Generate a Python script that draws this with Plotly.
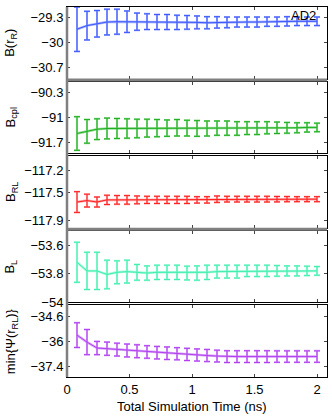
import plotly.graph_objects as go
from plotly.subplots import make_subplots

# Simulation times (ns)
times = [0.08, 0.16, 0.24, 0.32, 0.40, 0.48, 0.56, 0.64, 0.72, 0.80, 0.88, 0.96, 1.04,
         1.12, 1.20, 1.28, 1.36, 1.44, 1.52, 1.60, 1.68, 1.76, 1.84, 1.92, 2.00]

b_r_mean = [-29.62, -29.52, -29.47, -29.42, -29.41, -29.41, -29.41, -29.41, -29.42, -29.42,
            -29.43, -29.43, -29.43, -29.44, -29.43, -29.43, -29.42, -29.42, -29.42, -29.41,
            -29.41, -29.40, -29.40, -29.40, -29.40]
b_r_err = [0.62, 0.40, 0.37, 0.36, 0.35, 0.30, 0.24, 0.22, 0.21, 0.21, 0.20, 0.19, 0.18,
           0.17, 0.16, 0.15, 0.14, 0.14, 0.14, 0.13, 0.13, 0.13, 0.12, 0.12, 0.12]

b_cpl_mean = [-91.45, -91.39, -91.33, -91.31, -91.31, -91.31, -91.31, -91.30, -91.30, -91.30,
              -91.29, -91.30, -91.31, -91.31, -91.30, -91.30, -91.31, -91.30, -91.30, -91.29,
              -91.29, -91.29, -91.29, -91.28, -91.28]
b_cpl_err = [0.47, 0.33, 0.29, 0.29, 0.28, 0.27, 0.26, 0.25, 0.24, 0.23, 0.23, 0.22, 0.22,
             0.21, 0.20, 0.20, 0.19, 0.18, 0.18, 0.17, 0.16, 0.15, 0.14, 0.13, 0.12]

b_rl_mean = [-117.64, -117.62, -117.64, -117.61, -117.61, -117.61, -117.61, -117.61, -117.61,
             -117.61, -117.61, -117.61, -117.61, -117.61, -117.60, -117.60, -117.60, -117.60,
             -117.60, -117.60, -117.60, -117.60, -117.60, -117.60, -117.60]
b_rl_err = [0.145, 0.09, 0.07, 0.065, 0.06, 0.06, 0.055, 0.05, 0.05, 0.05, 0.05, 0.05, 0.045,
            0.045, 0.045, 0.04, 0.04, 0.04, 0.04, 0.04, 0.038, 0.036, 0.035, 0.035, 0.035]

b_l_mean = [-53.72, -53.78, -53.78, -53.805, -53.79, -53.785, -53.79, -53.795, -53.79, -53.79,
            -53.79, -53.795, -53.795, -53.79, -53.785, -53.785, -53.785, -53.78, -53.78, -53.78,
            -53.78, -53.78, -53.78, -53.78, -53.78]
b_l_err = [0.14, 0.13, 0.13, 0.10, 0.08, 0.08, 0.055, 0.05, 0.05, 0.05, 0.05, 0.048, 0.05,
           0.05, 0.045, 0.045, 0.045, 0.04, 0.04, 0.04, 0.037, 0.035, 0.035, 0.033, 0.03]

psi_mean = [-35.66, -36.05, -36.38, -36.42, -36.47, -36.52, -36.56, -36.60, -36.64, -36.67,
            -36.70, -36.74, -36.77, -36.80, -36.83, -36.86, -36.86, -36.86, -36.86, -36.86,
            -36.86, -36.86, -36.86, -36.86, -36.86]
psi_err = [0.69, 0.70, 0.37, 0.37, 0.36, 0.36, 0.36, 0.35, 0.35, 0.35, 0.34, 0.34, 0.34,
           0.34, 0.33, 0.33, 0.33, 0.33, 0.33, 0.33, 0.32, 0.32, 0.32, 0.32, 0.32]

x_ticks = [0, 0.5, 1, 1.5, 2]

panels = [
    # (mean, err, dark colour, light colour, y range, y ticks, label)
    (b_r_mean, b_r_err, "#3b57ff", "#a5b2ff", [-31, -29], [-30.7, -30, -29.3], "B(r<sub>R</sub>)"),
    (b_cpl_mean, b_cpl_err, "#1fb01f", "#94dc94", [-92, -90], [-91.7, -91, -90.3], "B<sub>cpl</sub>"),
    (b_rl_mean, b_rl_err, "#ff1f1f", "#ffa8a8", [-118, -117], [-117.9, -117.5, -117.2], "B<sub>RL</sub>"),
    (b_l_mean, b_l_err, "#3ff0b0", "#a8f8da", [-54, -53.5], [-54, -53.8, -53.6], "B<sub>L</sub>"),
    (psi_mean, psi_err, "#b03ff0", "#dca8f8", [-38, -34], [-37.4, -36, -34.6], "min{Ψ(r<sub>RL</sub>)}"),
]

FIG_W, FIG_H = 332, 418
L, W = 67, 260   # plot area left edge and width (px)
T, H = 7, 370    # plot area top edge and height (px)
gap = 3 / H
fig = make_subplots(rows=5, cols=1, shared_xaxes=True, vertical_spacing=gap)

font = dict(family="Liberation Sans, Arial, sans-serif", size=13, color="black")


def py(pix_y):
    # pixel y -> paper fraction
    return (T + H - pix_y) / H


def px(pix_x):
    return (pix_x - L) / W


for i, (mean, err, dark, light, yr, yt, label) in enumerate(panels):
    row = i + 1
    # soft wide layer underneath, thin dark layer on top
    fig.add_trace(go.Scatter(x=times, y=mean, mode="lines", line=dict(color=light, width=2.5),
                             error_y=dict(type="data", array=err, color=light, thickness=2, width=3),
                             showlegend=False, hoverinfo="skip"), row=row, col=1)
    fig.add_trace(go.Scatter(x=times, y=mean, mode="lines", line=dict(color=dark, width=1),
                             error_y=dict(type="data", array=err, color=dark, thickness=1, width=3),
                             showlegend=False), row=row, col=1)

    fig.update_yaxes(range=yr, tickvals=yt, ticktext=[f"{v:g}".replace("-", "\u2212") for v in yt],
                     ticks="inside", ticklen=3, mirror="ticks", showline=True, linecolor="black",
                     linewidth=1, showgrid=False, zeroline=False, tickfont=font, automargin=False,
                     row=row, col=1)

    dom = fig.layout["yaxis" if row == 1 else f"yaxis{row}"].domain
    fig.add_annotation(text=label, textangle=-90, xref="paper", yref="paper",
                       x=px(11), y=(dom[0] + dom[1]) / 2, xanchor="center",
                       yanchor="middle", showarrow=False, font=font)

fig.update_xaxes(range=[0, 2.08], tickvals=x_ticks, ticks="inside", ticklen=3, mirror="ticks",
                 showline=True, linecolor="black", linewidth=1, showgrid=False, zeroline=False,
                 tickfont=font, automargin=False)

# x axis title placed as text under the bottom panel
fig.add_annotation(text="Total Simulation Time (ns)", xref="paper", yref="paper",
                   x=px(192), y=py(406), xanchor="center", yanchor="middle",
                   showarrow=False, font=font)

# grey bars between some panels and the grey left spine
for lo, hi in [(1, 2), (3, 4)]:
    top = fig.layout["yaxis" if lo == 1 else f"yaxis{lo}"].domain[0]
    bottom = fig.layout[f"yaxis{hi}"].domain[1]
    fig.add_shape(type="rect", xref="paper", yref="paper", x0=0, x1=1, y0=bottom, y1=top,
                  fillcolor="#808080", line=dict(width=0))
fig.add_shape(type="line", xref="paper", yref="paper", x0=0, x1=0, y0=0, y1=1,
              line=dict(color="#808080", width=2.5))

fig.add_annotation(text="AD2", xref="paper", yref="paper", x=px(303), y=py(15),
                   showarrow=False, xanchor="center", yanchor="middle", font=font)

fig.update_layout(width=FIG_W, height=FIG_H,
                  margin=dict(l=L, r=FIG_W - L - W, t=T, b=FIG_H - T - H),
                  plot_bgcolor="white", paper_bgcolor="white", font=font)

# drop the page's default body margin so the figure sits at the window corner
fig.write_html("out.html", config={"displayModeBar": False},
               post_script="document.body.style.margin = '0';")
